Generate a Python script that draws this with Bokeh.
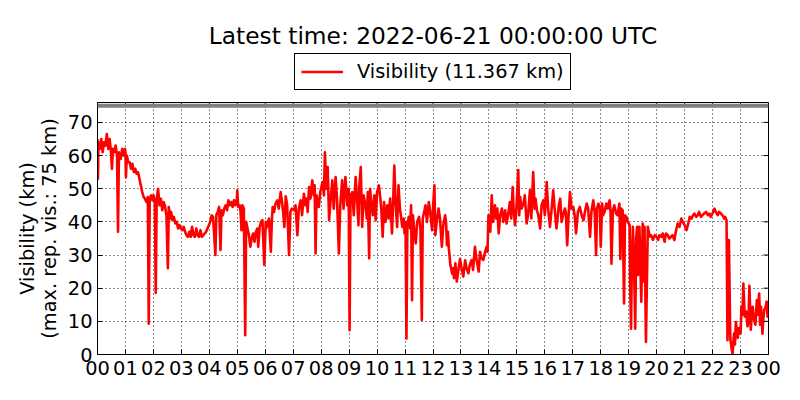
from bokeh.plotting import figure
from bokeh.layouts import column
from bokeh.models import Span, Legend, LegendItem, FixedTicker, Range1d, Label
from bokeh.core.properties import value
from bokeh.embed import file_html
from bokeh.resources import INLINE

# (minute of day, visibility km)
seg_00_06 = [(0,65),(1,53),(2,64),(5,62),(8,65),(11,61),(14,64),(17,63),(20,66.5),(23,62),(26,65),(29,61),(31,56),(33,62),(36,61),(39,63),(42,60),(44,37),(46,61),(50,59),(53,62),(56,60),(59,62),
    (60,61),(61,53.5),(63,60),(66,58),(69,58),(72,56),(75,57.5),(78,55),(81,56),(84,54.5),(87,55),(90,53),(93,51),(96,49),(99,47.5),(102,47),(105,46),(108,47.5),(110,9.3),(112,47),(115,48),(118,46.5),
    (120,48),(123,46),(125,18.6),(127,47),(130,50),(133,45),(136,47),(139,43.5),(142,46),(145,44.6),(148,42),(151,26),(153,44.5),(156,41),(158,43),(161,40.5),(164,41.5),(167,39.5),(170,40),(173,38),(176,39),(179,38),
    (182,37.5),(185,38.5),(188,37),(191,36),(194,35.5),(197,37),(200,35.5),(203,38.5),(206,36),(209,35.5),(212,38),(215,36),(218,35.5),(221,37.5),(224,35.5),(227,36),(230,36.5),(233,37),(236,38),(239,39),
    (242,40),(245,42),(248,41.5),(253,30),(255,42),(258,43),(261,44.5),(264,31.5),(266,43.5),(269,42),(272,44),(275,45),(278,43.5),(281,46.5),(284,45),(287,46),(290,44.5),(293,46.5),(296,45),(299,47),(300,49.5),
    (302,44.5),(305,45),(307,43),(309,37.5),(311,45),(314,44),(317,5.8),(319,40),(322,38),(325,36),(328,32.5),(331,35),(334,36.5),(337,34),(340,37),(343,38),(345,32.5),(348,38.5),(351,40),(354,40.5),(358,27)]

seg_06_12 = [(361,40),(362,38),(365,39.5),(368,41),(372,31),(374,40),(376,44.5),(379,43),(382,45.5),(386,46.5),(389,44),(393,49),(396,46),(399,42),(401,38.5),(404,47.7),(407,45),(411,30),(414,43),(417,44),
    (422,43.5),(425,45),(429,36),(432,44),(436,46.5),(439,42),(443,48.5),(446,45),(449,47),(451,43),(454,50.5),(457,47),(461,52.5),(464,48),(466,51),(468,30.5),(470,48),(473,46),(475,44.5),(478,49),
    (483,52),(486,48),(488,61),(491,50),(494,56.5),(497,40.5),(500,46),(504,52.5),(507,44),(511,53.5),(514,47),(518,30.5),(521,45),(525,52.5),(528,44),(532,53.5),(536,45),(539,50),
    (541,7.3),(543,48),(547,49),(550,42),(554,53.5),(557,47),(560,39),(562,51),(565,56.5),(568,38.5),(571,48),(575,45),(578,41),(580,49),(583,29),(585,50),(588,45),(591,42),(594,48),(597,40.5),
    (600,49),(604,51),(607,47),(609,44),(612,35.5),(615,46),(618,40),(622,45),(625,41),(628,47),(632,36.5),(634,44),(637,57),(640,45),(643,38.5),(646,51),(649,44),(651,42),(654,38.5),(657,41),(659,36.5),
    (661,40),(663,4.8),(665,39),(668,41.5),(671,38),(673,45),(675,16.4),(677,42),(680,37),(683,33.5),(686,40),(690,41.5),(693,38),(696,10.4),(698,41),(701,43),(704,45),(707,40),(711,46),(714,43),(718,37.5)]

seg_12_18 = [(720,44),(723,51),(725,36),(728,40),(732,44),(735,41),(739,32.5),(742,39),(746,42),(748,40),(750,33),(752,37),(754,32),(757,27.4),(761,24.4),(763,26),(765,23),(768,27.5),(771,22),(774,25),(778,28.8),
    (782,25.4),(785,23.5),(789,28.4),(792,26),(796,24.5),(799,27),(803,28.5),(806,25.5),(810,32.5),(813,29),(818,25),(821,31),(824,29),(828,28.5),(831,30.5),(835,32.5),(837,31),
    (839,42),(843,37),(846,48),(849,40),(853,45),(856,41),(858,44),(861,36.5),(864,42),(868,44),(871,40),(875,43.5),(878,39.5),(881,42),(885,46),(888,41),(891,50.5),(893,44),(896,39),
    (899,44),(903,55.6),(905,42),(907,47.5),(910,44),(914,45.5),(917,48),(921,39.5),(924,42),(928,49.5),(931,41),(935,55),(938,44),(940,47),(943,43.5),(946,42),(950,38),(953,45),(957,46.5),(960,42),
    (964,52),(967,44),(971,38.5),(974,43),(978,49.5),(981,44),(985,38),(988,42),(990,45),(993,47),(996,40),(1000,42.5),(1003,44),(1005,43),(1008,33),(1011,42),(1014,49),(1017,44),
    (1021,44.5),(1024,42),(1027,36.5),(1031,43),(1035,44.5),(1039,42),(1043,40.5),(1046,43),(1050,45.5),(1053,44),(1057,35.5),(1060,43),(1064,46.5),(1067,43),(1070,30),(1072,44),(1075,45.5),(1078,44),(1080,32.5)]

seg_18_24 = [(1083,45.5),(1085,42),(1088,43),(1092,45.5),(1095,44),(1099,46.5),(1101,43),(1103,27.4),(1106,43.5),(1109,45),(1113,42.5),(1116,42),(1120,45.5),(1122,28.8),(1124,44),(1127,43.5),(1130,15.4),(1132,42),(1135,41.5),(1138,40),
    (1142,39),(1143,22),(1145,7.8),(1147,30),(1149,38.5),(1151,30),(1154,7.8),(1156,35),(1158,38.5),(1160,24),(1163,38.5),(1167,15.9),(1170,39.5),(1172,22),(1174,38.5),(1177,3.8),(1181,38.5),(1185,35.6),(1188,36),(1192,34.6),(1196,36),(1199,35.6),
    (1203,34.6),(1206,36),(1210,35.5),(1213,36.5),(1217,34),(1220,36.5),(1224,36),(1227,35),(1231,35.5),(1234,36),(1238,34.5),(1241,37),(1245,39.5),(1249,38.5),(1253,41),(1256,40),(1260,39),
    (1264,37.5),(1267,39),(1271,41.5),(1275,41),(1278,42),(1281,42.5),(1285,41.5),(1288,42),(1291,43),(1295,41.5),(1298,42),(1302,42.5),(1306,43),(1310,42),(1313,42.5),(1316,41.5),(1320,42.6),
    (1324,44),(1327,43),(1331,42),(1334,43),(1338,42.5),(1341,42),(1345,41),(1347,41.5),(1350,40.5),(1352,4.3),(1355,34.5),(1358,5),(1361,1.5),(1363,0.3),(1366,6.3),(1368,3),(1370,9.8),(1374,5),(1377,8),(1380,6.3),
    (1382,14.4),(1384,12),(1386,21.4),(1389,11.5),(1392,13),(1395,8.5),(1397,10),(1399,20.7),(1402,7.5),(1404,12),(1406,14.4),(1409,10.4),(1412,9),(1415,16.4),(1417,12),(1420,18.4),(1422,9),(1424,14.4),(1427,6.3),(1429,11),(1431,13.5),(1434,14.4),(1436,16),(1438,11.4),(1440,11.367)]

max_rep_vis = 75
latest_vis = 11.367
title_text = "Latest time: 2022-06-21 00:00:00 UTC"
hour_ticks = [h * 60 for h in range(25)]
hour_labels = ["%02d" % (h % 24) for h in range(25)]
y_ticks = [0, 10, 20, 30, 40, 50, 60, 70]

pts = seg_00_06 + seg_06_12 + seg_12_18 + seg_18_24
minutes = [p_[0] for p_ in pts]
vis = [p_[1] for p_ in pts]

FONT = "DejaVu Sans"
FS = "19.4px"
X0, X1, Y0, Y1 = 0, 1440, 0, 76
LINE = dict(line_color="#ff0000", line_width=2.6, line_join="round")
HEAD_H = 96

# ---- header: title + legend (frame aligned with the chart frame) ----
head = figure(width=784, height=HEAD_H, output_backend="svg", toolbar_location=None,
              x_range=Range1d(X0, X1), y_range=Range1d(1000, 1000 + HEAD_H),
              x_axis_type=None, y_axis_type=None,
              min_border_left=97, min_border_right=16, min_border_bottom=0, min_border_top=0)
head.title = None
head.grid.visible = False
head.outline_line_color = None
head.background_fill_color = "white"
head.border_fill_color = "white"
head.add_layout(Label(x=(X0 + X1) / 2, y=1000 + HEAD_H - 35, text=title_text,
                      text_align="center", text_baseline="middle",
                      text_font=FONT, text_font_size="23.3px", text_color="black"))
# legend proxy: the same series, lying outside the header's y range (not visible)
r_leg = head.line(minutes, vis, **LINE)
legend = Legend(items=[LegendItem(label=value("Visibility (%.3f km)" % latest_vis), renderers=[r_leg])],
                orientation="horizontal", location=(197, 6),
                label_text_font=FONT, label_text_font_size=FS, label_text_color="black",
                glyph_width=42, glyph_height=17, label_height=17, label_standoff=14,
                padding=6, spacing=0, margin=0,
                border_line_color="black", border_line_width=1, border_line_alpha=1,
                background_fill_alpha=1)
head.add_layout(legend)

# ---- main chart ----
p = figure(width=784, height=288, output_backend="svg", toolbar_location=None,
           x_range=Range1d(X0, X1), y_range=Range1d(Y0, Y1),
           min_border_left=97, min_border_right=16, min_border_bottom=30, min_border_top=6)
p.title = None
p.background_fill_color = "white"
p.border_fill_color = "white"
p.outline_line_color = "black"
p.outline_line_width = 1

p.add_layout(Span(location=max_rep_vis, dimension="width", line_color="#808080", line_width=4))

r = p.line(minutes, vis, **LINE)

for ax in (p.xaxis[0], p.yaxis[0]):
    ax.major_label_text_font = FONT
    ax.major_label_text_font_size = FS
    ax.major_label_text_color = "black"
    ax.major_tick_in = 5
    ax.major_tick_out = 0
    ax.minor_tick_line_color = None
    ax.axis_line_color = "black"
    ax.major_tick_line_color = "black"

p.xaxis.ticker = FixedTicker(ticks=hour_ticks)
p.xaxis.major_label_overrides = {t: l for t, l in zip(hour_ticks, hour_labels)}
p.xaxis.major_label_standoff = 6
p.yaxis.ticker = FixedTicker(ticks=y_ticks)
p.yaxis.major_label_standoff = 5
p.yaxis.axis_label = "Visibility (km)\n(max. rep. vis.: 75 km)"
p.yaxis.axis_label_text_font = FONT
p.yaxis.axis_label_text_font_size = FS
p.yaxis.axis_label_text_font_style = "normal"
p.yaxis.axis_label_text_color = "black"
p.yaxis.axis_label_text_line_height = 0.97
p.yaxis.axis_label_standoff = 4

p.xgrid.ticker = FixedTicker(ticks=hour_ticks)
p.ygrid.ticker = FixedTicker(ticks=y_ticks)
for g in (p.xgrid[0], p.ygrid[0]):
    g.grid_line_color = "black"
    g.grid_line_dash = "1 3"
    g.grid_line_width = 1
    g.grid_line_alpha = 0.9

# inward ticks on the top and right frame edges (tick length ~5 px)
tick_dy = 5 * (Y1 - Y0) / 252.0
tick_dx = 5 * (X1 - X0) / 671.0
p.segment(x0=hour_ticks, y0=[Y1] * len(hour_ticks), x1=hour_ticks, y1=[Y1 - tick_dy] * len(hour_ticks),
          line_color="black", line_width=1)
p.segment(x0=[X1] * len(y_ticks), y0=y_ticks, x1=[X1 - tick_dx] * len(y_ticks), y1=y_ticks,
          line_color="black", line_width=1)

layout = column(head, p, spacing=0)
open("out.html", "w").write(file_html(layout, INLINE))
